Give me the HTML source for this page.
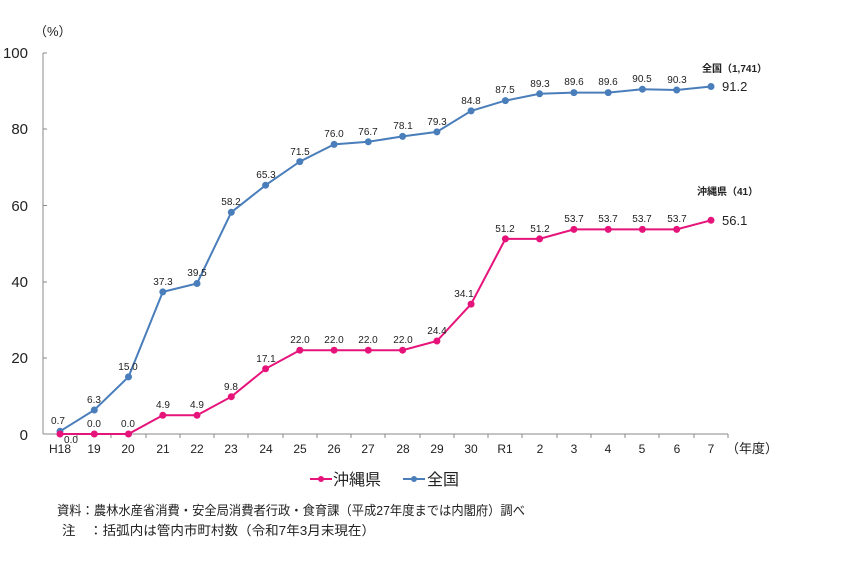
<!DOCTYPE html>
<html><head><meta charset="utf-8"><style>
html,body{margin:0;padding:0;background:#fff;}
svg{display:block;font-family:"Liberation Sans","Noto Sans CJK JP",sans-serif;}
.l{font-size:10px;text-anchor:middle;fill:#222;}
.t{font-size:12px;text-anchor:middle;fill:#222;}
</style></head><body>
<svg width="850" height="568" viewBox="0 0 850 568">
<text x="34" y="36" font-size="13" fill="#222">（%）</text>
<g font-size="15" fill="#222" text-anchor="end">
<text x="28" y="58">100</text><text x="28" y="134">80</text><text x="28" y="211">60</text>
<text x="28" y="287">40</text><text x="28" y="363">20</text><text x="28" y="440">0</text>
</g>
<g stroke="#888" stroke-width="1">
<line x1="43" y1="53" x2="43" y2="434"/>
<line x1="43" y1="434" x2="728" y2="434"/>
<line x1="43" y1="53" x2="47" y2="53"/><line x1="43" y1="129" x2="47" y2="129"/>
<line x1="43" y1="205.5" x2="47" y2="205.5"/><line x1="43" y1="282" x2="47" y2="282"/>
<line x1="43" y1="358" x2="47" y2="358"/>
<path d="M77 434v4M111 434v4M146 434v4M180 434v4M214 434v4M248 434v4M283 434v4M317 434v4M351 434v4M385 434v4M420 434v4M454 434v4M488 434v4M522 434v4M557 434v4M591 434v4M625 434v4M659 434v4M694 434v4M728 434v4"/>
</g>
<g class="t">
<text x="60" y="453">H18</text><text x="94" y="453">19</text><text x="128" y="453">20</text><text x="163" y="453">21</text><text x="197" y="453">22</text><text x="231" y="453">23</text><text x="266" y="453">24</text><text x="300" y="453">25</text><text x="334" y="453">26</text><text x="368" y="453">27</text><text x="403" y="453">28</text><text x="437" y="453">29</text><text x="471" y="453">30</text><text x="505" y="453">R1</text><text x="540" y="453">2</text><text x="574" y="453">3</text><text x="608" y="453">4</text><text x="642" y="453">5</text><text x="677" y="453">6</text><text x="711" y="453">7</text>
</g>
<text x="726" y="453" font-size="13" fill="#222">（年度）</text>
<polyline fill="none" stroke="#4A7EBB" stroke-width="2" points="60,431.3 94.3,410 128.5,376.9 162.8,291.9 197,283.5 231.3,212.3 265.6,185.2 299.8,161.6 334.1,144.4 368.3,141.8 402.6,136.4 436.9,131.9 471.1,110.9 505.4,100.6 539.6,93.8 573.9,92.6 608.2,92.6 642.4,89.2 676.7,90 711,86.5"/>
<g fill="#4A7EBB">
<circle cx="60" cy="431.3" r="3.5"/><circle cx="94.3" cy="410" r="3.5"/><circle cx="128.5" cy="376.9" r="3.5"/><circle cx="162.8" cy="291.9" r="3.5"/><circle cx="197" cy="283.5" r="3.5"/><circle cx="231.3" cy="212.3" r="3.5"/><circle cx="265.6" cy="185.2" r="3.5"/><circle cx="299.8" cy="161.6" r="3.5"/><circle cx="334.1" cy="144.4" r="3.5"/><circle cx="368.3" cy="141.8" r="3.5"/><circle cx="402.6" cy="136.4" r="3.5"/><circle cx="436.9" cy="131.9" r="3.5"/><circle cx="471.1" cy="110.9" r="3.5"/><circle cx="505.4" cy="100.6" r="3.5"/><circle cx="539.6" cy="93.8" r="3.5"/><circle cx="573.9" cy="92.6" r="3.5"/><circle cx="608.2" cy="92.6" r="3.5"/><circle cx="642.4" cy="89.2" r="3.5"/><circle cx="676.7" cy="90" r="3.5"/><circle cx="711" cy="86.5" r="3.5"/>
</g>
<polyline fill="none" stroke="#E6137A" stroke-width="2" points="60,434 94.3,434 128.5,434 162.8,415.3 197,415.3 231.3,396.7 265.6,368.8 299.8,350.2 334.1,350.2 368.3,350.2 402.6,350.2 436.9,341 471.1,304.1 505.4,238.9 539.6,238.9 573.9,229.4 608.2,229.4 642.4,229.4 676.7,229.4 711,220.3"/>
<g fill="#E6137A">
<circle cx="60" cy="434" r="3.5"/><circle cx="94.3" cy="434" r="3.5"/><circle cx="128.5" cy="434" r="3.5"/><circle cx="162.8" cy="415.3" r="3.5"/><circle cx="197" cy="415.3" r="3.5"/><circle cx="231.3" cy="396.7" r="3.5"/><circle cx="265.6" cy="368.8" r="3.5"/><circle cx="299.8" cy="350.2" r="3.5"/><circle cx="334.1" cy="350.2" r="3.5"/><circle cx="368.3" cy="350.2" r="3.5"/><circle cx="402.6" cy="350.2" r="3.5"/><circle cx="436.9" cy="341" r="3.5"/><circle cx="471.1" cy="304.1" r="3.5"/><circle cx="505.4" cy="238.9" r="3.5"/><circle cx="539.6" cy="238.9" r="3.5"/><circle cx="573.9" cy="229.4" r="3.5"/><circle cx="608.2" cy="229.4" r="3.5"/><circle cx="642.4" cy="229.4" r="3.5"/><circle cx="676.7" cy="229.4" r="3.5"/><circle cx="711" cy="220.3" r="3.5"/>
</g>
<g class="l">
<text x="58" y="424">0.7</text><text x="94" y="403">6.3</text><text x="128" y="370">15.0</text><text x="163" y="285">37.3</text><text x="197" y="276">39.5</text><text x="231" y="205">58.2</text><text x="266" y="178">65.3</text><text x="300" y="155">71.5</text><text x="334" y="137">76.0</text><text x="368" y="135">76.7</text><text x="403" y="129">78.1</text><text x="437" y="125">79.3</text><text x="471" y="104">84.8</text><text x="505" y="93">87.5</text><text x="540" y="87">89.3</text><text x="574" y="85">89.6</text><text x="608" y="85">89.6</text><text x="642" y="82">90.5</text><text x="677" y="83">90.3</text>
<text x="71" y="443">0.0</text><text x="94" y="427">0.0</text><text x="128" y="427">0.0</text><text x="163" y="408">4.9</text><text x="197" y="408">4.9</text><text x="231" y="390">9.8</text><text x="266" y="362">17.1</text><text x="300" y="343">22.0</text><text x="334" y="343">22.0</text><text x="368" y="343">22.0</text><text x="403" y="343">22.0</text><text x="437" y="334">24.4</text><text x="464" y="297">34.1</text><text x="505" y="232">51.2</text><text x="540" y="232">51.2</text><text x="574" y="222">53.7</text><text x="608" y="222">53.7</text><text x="642" y="222">53.7</text><text x="677" y="222">53.7</text>
</g>
<text x="722" y="91" font-size="13" fill="#222">91.2</text>
<text x="722" y="225" font-size="13" fill="#222">56.1</text>
<text x="702" y="72" font-size="10" font-weight="bold" fill="#222">全国（1,741）</text>
<text x="697" y="195" font-size="10" font-weight="bold" fill="#222">沖縄県（41）</text>
<line x1="310" y1="479" x2="332" y2="479" stroke="#E6137A" stroke-width="2"/><circle cx="321" cy="479" r="3" fill="#E6137A"/>
<text x="333" y="485" font-size="16" fill="#222">沖縄県</text>
<line x1="403" y1="479" x2="425" y2="479" stroke="#4A7EBB" stroke-width="2"/><circle cx="414" cy="479" r="3" fill="#4A7EBB"/>
<text x="427" y="485" font-size="16" fill="#222">全国</text>
<text x="57" y="515" font-size="13" fill="#222" textLength="468" lengthAdjust="spacingAndGlyphs">資料：農林水産省消費・安全局消費者行政・食育課（平成27年度までは内閣府）調べ</text>
<text x="62" y="535" font-size="13" fill="#222" textLength="313" lengthAdjust="spacingAndGlyphs">注　：括弧内は管内市町村数（令和7年3月末現在）</text>
</svg>
</body></html>
